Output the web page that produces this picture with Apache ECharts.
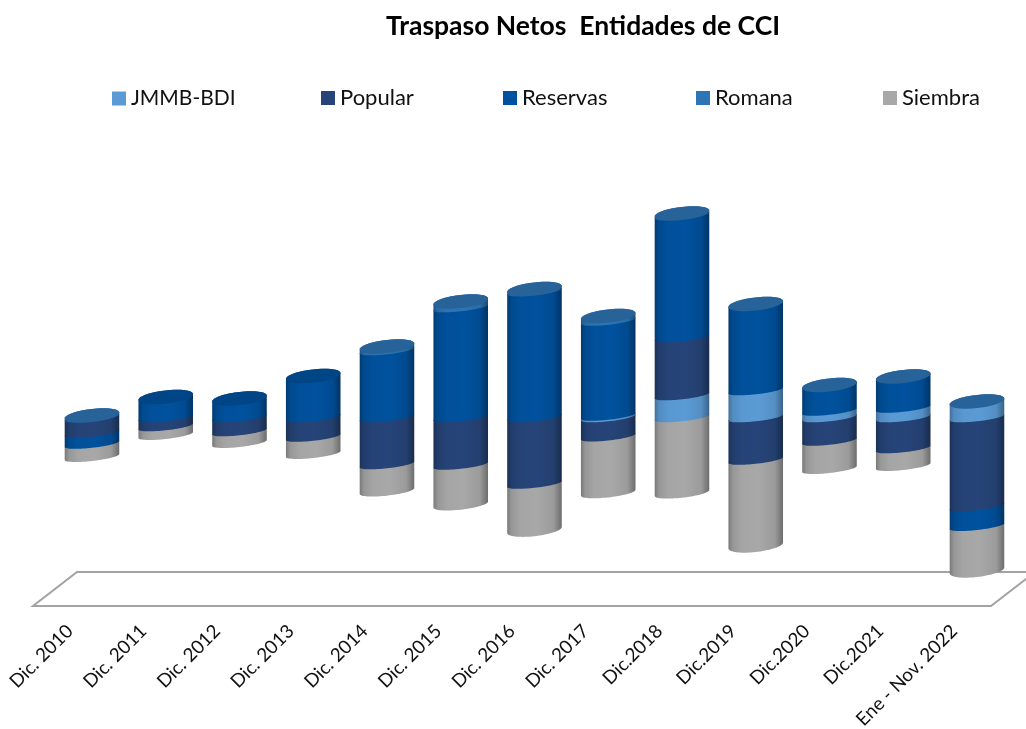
<!DOCTYPE html>
<html>
<head>
<meta charset="utf-8">
<style>html,body{margin:0;padding:0;background:#fff}#c{width:1026px;height:729px}</style>
<script src="https://cdn.jsdelivr.net/npm/echarts@6/dist/echarts.min.js"></script>
</head>
<body>
<div id="c"></div>
<script>
const chartTitle = 'Traspaso Netos  Entidades de CCI';
const categories = ['Dic. 2010','Dic. 2011','Dic. 2012','Dic. 2013','Dic. 2014','Dic. 2015','Dic. 2016','Dic. 2017','Dic.2018','Dic.2019','Dic.2020','Dic.2021','Ene - Nov. 2022'];
const jmmb     = [0, 0, 0, 0, 0, 0, 0, 1.5, 22, 27, 6.5, 9.5, 15.5];
const popular  = [-15.5, -9, -14, -19.5, -47, -47.5, -66.5, -19.2, 58, -42.5, -23.5, -31, -89];
const reservas = [-11, 20.5, 19, 41.5, 67, 110, 126, 95, 122, 85.5, 25.5, 30.5, -19.7];
const romana   = [2, 0, 0, 0, 4, 6, 2.5, 5, 2, 1, 0.5, 1, 0.5];
const siembra  = [-13, -8.5, -11.5, -17, -26.5, -39.5, -46, -56, -75.5, -85.5, -28, -17.5, -44.3];

const names = ['JMMB-BDI','Popular','Reservas','Romana','Siembra'];
const values = [jmmb, popular, reservas, romana, siembra];
const colors = ['#5b9bd5','#264478','#00529e','#2e75b6','#a8a8a8'];
const legendLeft = [107, 316, 498, 691, 878];
const legendSize = [21, 22, 22, 22, 22];
const FONT = 'Lato, "Open Sans", sans-serif';

function shade(hex, f) {
  const n = parseInt(hex.slice(1), 16);
  const ch = [n >> 16 & 255, n >> 8 & 255, n & 255].map(c => Math.round(c * f));
  return 'rgb(' + ch.join(',') + ')';
}
function range(s, c) {
  let base = 0;
  const v = values[s][c];
  for (let i = 0; i < s; i++) {
    const w = values[i][c];
    if ((w > 0) === (v > 0)) base += w;
  }
  return [Math.min(base, base + v), Math.max(base, base + v)];
}
function isTop(s, c) {
  if (values[s][c] <= 0) return false;
  for (let i = s + 1; i < values.length; i++) if (values[i][c] > 0) return false;
  return true;
}
const tilt = 0.11;
const ryInner = 3.8, ryCap = 6.6;
function ryBottom(y) { return Math.max(4, Math.min(6.5, 2.2 + Math.abs(y - 430) * 0.04)); }
function arc(cx, cy, rx, ry, from, to) {
  const pts = [];
  const n = 36;
  for (let i = 0; i <= n; i++) {
    const t = from + (to - from) * i / n;
    pts.push([cx + rx * Math.cos(t), cy + ry * Math.sin(t) - tilt * rx * Math.cos(t)]);
  }
  return pts;
}
function bodyFill(col) {
  return {
    type: 'linear', x: 0, y: 0, x2: 1, y2: 0,
    colorStops: [
      {offset: 0, color: shade(col, 0.72)},
      {offset: 0.08, color: shade(col, 0.9)},
      {offset: 0.25, color: shade(col, 0.98)},
      {offset: 0.55, color: shade(col, 1)},
      {offset: 0.85, color: shade(col, 0.92)},
      {offset: 1, color: shade(col, 0.64)}
    ]
  };
}
function renderCyl(s) {
  return function (params, api) {
    const c = api.value(0);
    const v = values[s][c];
    if (!v) return null;
    const [lo, hi] = range(s, c);
    const cx = api.coord([c, 0])[0];
    const yLo = api.coord([c, lo])[1];
    const yHi = api.coord([c, hi])[1];
    const rx = api.size([1, 0])[0] * 0.37;
    const col = colors[s];
    const top = isTop(s, c);
    const ryLo = s === values.length - 1 ? ryBottom(yLo) : ryInner;
    const ryHi = top ? ryCap : ryInner;
    const pts = arc(cx, yLo, rx, ryLo, 0, Math.PI)
      .concat(arc(cx, yHi, rx, ryHi, Math.PI, 2 * Math.PI));
    const children = [{
      type: 'polygon', z2: Math.round(1000 + lo),
      shape: {points: pts},
      style: {fill: bodyFill(col)}
    }];
    if (top) {
      children.push({
        type: 'polygon', z2: 3000,
        shape: {points: arc(cx, yHi, rx, ryHi, 0, 2 * Math.PI)},
        style: {fill: shade(col, 0.84)}
      });
    }
    return {type: 'group', children};
  };
}
function renderFloor(params, api) {
  const g = params.coordSys;
  const x0 = g.x, x1 = g.x + g.width, y = g.y + g.height;
  const dx = 44, dy = 34;
  return {
    type: 'polygon',
    shape: {points: [[x0, y], [x1, y], [x1 + dx, y - dy], [x0 + dx, y - dy]]},
    style: {fill: '#fff', stroke: '#a3a3a3', lineWidth: 2}
  };
}

const chart = echarts.init(document.getElementById('c'), null, {renderer: 'canvas'});
chart.setOption({
  animation: false,
  backgroundColor: '#fff',
  title: {
    text: chartTitle, left: 386, top: 13, padding: 0,
    textStyle: {fontFamily: FONT, fontSize: 26.5, fontWeight: 'bold', color: '#000'}
  },
  legend: names.map((n, i) => ({
    data: [n], left: legendLeft[i], top: 82 + (22 - legendSize[i]), itemWidth: 14, itemHeight: 14, icon: 'rect',
    textStyle: {fontFamily: FONT, fontSize: legendSize[i], color: '#111'}
  })),
  grid: [
    {left: 55.1, width: 958.75, top: 107.5, height: 500, outerBoundsMode: 'none'},
    {left: 33, width: 958, top: 506, height: 100, outerBoundsMode: 'none'}
  ],
  xAxis: [
    {gridIndex: 0, type: 'category', data: categories, axisLine: {show: false}, axisTick: {show: false}, axisLabel: {show: false}},
    {gridIndex: 1, type: 'category', data: categories, axisLine: {show: false}, axisTick: {show: false},
      axisLabel: {show: true, interval: 0, rotate: 45, margin: 22, fontFamily: FONT, fontSize: 18.8, color: '#111'}}
  ],
  yAxis: [
    {gridIndex: 0, type: 'value', min: -190, max: 310, show: false},
    {gridIndex: 1, type: 'value', min: 0, max: 1, show: false}
  ],
  series: [
    {type: 'custom', name: 'floor', xAxisIndex: 1, yAxisIndex: 1, z: 1, silent: true, clip: false,
      data: [[0, 0]], renderItem: renderFloor}
  ].concat(names.map((n, s) => ({
    type: 'custom', name: n, xAxisIndex: 0, yAxisIndex: 0, z: 2, silent: true, clip: false,
    itemStyle: {color: colors[s]},
    data: values[s].map((v, i) => [i, v]),
    encode: {x: 0, y: 1},
    renderItem: renderCyl(s)
  })))
});
</script>
</body>
</html>
